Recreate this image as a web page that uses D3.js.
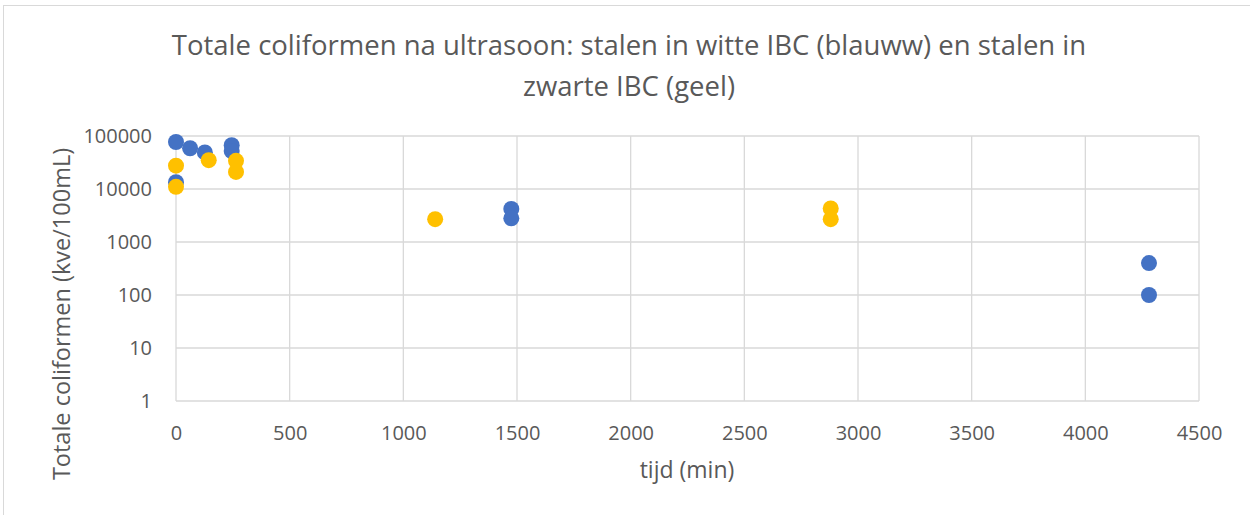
<!DOCTYPE html>
<html>
<head>
<meta charset="utf-8">
<script src="https://cdn.jsdelivr.net/npm/d3@7"></script>
<style>
  body { margin: 0; background: #fff; }
  text { font-family: "Open Sans", "Liberation Sans", sans-serif; fill: #595959; }
</style>
</head>
<body>
<script>
// witte IBC (blauw)
const blueTime = [0, 0, 62, 127, 245, 245, 1475, 1475, 4280, 4280];
const blueCount = [77000, 13400, 58700, 49000, 67000, 52000, 4200, 2800, 400, 100];
// zwarte IBC (geel)
const yellowTime = [0, 0, 144, 264, 264, 1140, 2880, 2880];
const yellowCount = [27500, 11000, 35000, 34000, 21000, 2700, 4300, 2700];

const xTicks = [0, 500, 1000, 1500, 2000, 2500, 3000, 3500, 4000, 4500];
const yTicks = [1, 10, 100, 1000, 10000, 100000];

const width = 1250, height = 515;
const margin = { top: 136, right: 51, bottom: 114, left: 176 };

const svg = d3.select("body").append("svg")
  .attr("width", width)
  .attr("height", height);

// chart frame
svg.append("rect")
  .attr("x", 3.5).attr("y", 5.5)
  .attr("width", width + 10).attr("height", height + 10)
  .attr("fill", "none").attr("stroke", "#d9d9d9");

const x = d3.scaleLinear().domain([0, 4500]).range([margin.left, width - margin.right]);
const y = d3.scaleLog().domain([1, 100000]).range([height - margin.bottom, margin.top]);

// grid
svg.append("g").selectAll("line").data(xTicks).join("line")
  .attr("x1", d => x(d)).attr("x2", d => x(d))
  .attr("y1", y(1)).attr("y2", y(100000))
  .attr("stroke", "#d9d9d9").attr("stroke-width", 1.3);
svg.append("g").selectAll("line").data(yTicks).join("line")
  .attr("x1", x(0)).attr("x2", x(4500))
  .attr("y1", d => y(d)).attr("y2", d => y(d))
  .attr("stroke", "#d9d9d9").attr("stroke-width", 1.3);

// axes labels
svg.append("g").attr("transform", `translate(${x(0)},0)`)
  .call(d3.axisLeft(y).tickValues(yTicks).tickFormat(d3.format("d")).tickSize(0).tickPadding(24))
  .call(g => g.select(".domain").remove())
  .selectAll("text").style("font-size", "20px").attr("fill", "#595959");

svg.append("g").attr("transform", `translate(0,${y(1)})`)
  .call(d3.axisBottom(x).tickValues(xTicks).tickFormat(d3.format("d")).tickSize(0).tickPadding(25))
  .call(g => g.select(".domain").remove())
  .selectAll("text").style("font-size", "20px").attr("fill", "#595959");

// points
const blue = blueTime.map((t, i) => ({ t, c: blueCount[i] }));
const yellow = yellowTime.map((t, i) => ({ t, c: yellowCount[i] }));

svg.append("g").selectAll("circle").data(blue).join("circle")
  .attr("cx", d => x(d.t)).attr("cy", d => y(d.c)).attr("r", 8)
  .attr("fill", "#4472C4");
svg.append("g").selectAll("circle").data(yellow).join("circle")
  .attr("cx", d => x(d.t)).attr("cy", d => y(d.c)).attr("r", 8)
  .attr("fill", "#FFC000");

// titles
const title = svg.append("text")
  .attr("text-anchor", "middle")
  .style("font-size", "27.5px");
title.append("tspan").attr("x", 629).attr("y", 55)
  .text("Totale coliformen na ultrasoon: stalen in witte IBC (blauww) en stalen in");
title.append("tspan").attr("x", 629).attr("y", 96)
  .text("zwarte IBC (geel)");

svg.append("text")
  .attr("x", 687).attr("y", 478)
  .attr("text-anchor", "middle")
  .style("font-size", "23px")
  .text("tijd (min)");

svg.append("text")
  .attr("transform", "translate(70,314) rotate(-90)")
  .attr("text-anchor", "middle")
  .style("font-size", "23.5px")
  .text("Totale coliformen (kve/100mL)");
</script>
</body>
</html>
